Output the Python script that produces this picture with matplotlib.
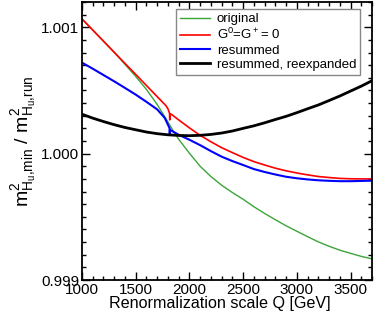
import numpy as np
import matplotlib
matplotlib.use('Agg')
import matplotlib.pyplot as plt
from matplotlib.ticker import MultipleLocator, FormatStrFormatter

plt.rcParams['font.family'] = ['Liberation Sans', 'DejaVu Sans']
plt.rcParams['mathtext.default'] = 'regular'

# Daten
q_orig = [1000, 1100, 1200, 1300, 1400, 1500, 1600, 1700, 1800, 1850, 1900, 2000, 2100, 2200,
          2300, 2400, 2500, 2600, 2700, 2800, 2900, 3000, 3100, 3200, 3300, 3400, 3500, 3600, 3700]
v_orig = [1.001066, 1.000978, 1.000890, 1.000802, 1.000707, 1.000611, 1.000508, 1.000389,
          1.000251, 1.000179, 1.000114, 1.000003, 0.999900, 0.999819, 0.999750, 0.999692,
          0.999639, 0.999580, 0.999527, 0.999477, 0.999429, 0.999386, 0.999343, 0.999302,
          0.999267, 0.999236, 0.999211, 0.999187, 0.999167]

q_g0 = [1000, 1100, 1200, 1300, 1400, 1500, 1600, 1700, 1780, 1800, 1815, 1817, 1819,
        1831, 1900, 2000, 2100, 2200, 2300, 2400, 2500, 2600, 2700, 2800, 2900, 3000,
        3100, 3200, 3300, 3400, 3500, 3600, 3700]
v_g0 = [1.001066, 1.000978, 1.000890, 1.000802, 1.000714, 1.000627, 1.000539, 1.000451,
        1.000381, 1.000355, 1.000320, 1.000267, 1.000312, 1.000312, 1.000267, 1.000204,
        1.000145, 1.000094, 1.000047, 1.000008, 0.999970, 0.999937, 0.999910, 0.999885,
        0.999864, 0.999847, 0.999832, 0.999819, 0.999811, 0.999804, 0.999801, 0.999800,
        0.999800]

q_res = [1000, 1100, 1200, 1300, 1400, 1500, 1600, 1700, 1770, 1815, 1817, 1819, 1900,
         2000, 2100, 2200, 2300, 2400, 2500, 2600, 2700, 2800, 2900, 3000, 3100, 3200,
         3300, 3400, 3500, 3600, 3700]
v_res = [1.000720, 1.000672, 1.000622, 1.000572, 1.000520, 1.000467, 1.000410, 1.000350,
         1.000283, 1.000202, 1.000149, 1.000189, 1.000149, 1.000110, 1.000067, 1.000020,
         0.999976, 0.999941, 0.999910, 0.999878, 0.999855, 0.999835, 0.999817, 0.999805,
         0.999796, 0.999789, 0.999785, 0.999782, 0.999782, 0.999784, 0.999786]

q_reexp = [1000, 1100, 1200, 1300, 1400, 1500, 1600, 1700, 1800, 1900, 2000, 2100, 2200,
           2300, 2400, 2500, 2600, 2700, 2800, 2900, 3000, 3100, 3200, 3300, 3400, 3500,
           3600, 3700]
v_reexp = [1.000312, 1.000281, 1.000254, 1.000229, 1.000207, 1.000189, 1.000171, 1.000158,
           1.000149, 1.000144, 1.000142, 1.000145, 1.000152, 1.000163, 1.000179, 1.000200,
           1.000220, 1.000244, 1.000270, 1.000295, 1.000324, 1.000355, 1.000385, 1.000420,
           1.000456, 1.000495, 1.000534, 1.000577]

fig = plt.figure(figsize=(3.74, 3.18), dpi=100)
ax = fig.add_axes([82 / 374, 1 - 280 / 318, 290 / 374, 278 / 318])

ax.plot(q_orig, v_orig, color='#3aa53a', lw=1.0, label='original')
ax.plot(q_g0, v_g0, color='red', lw=1.2, label=r'G$^0$=G$^+$= 0')
ax.plot(q_res, v_res, color='blue', lw=1.5, label='resummed')
ax.plot(q_reexp, v_reexp, color='black', lw=2.0, label='resummed, reexpanded')

ax.set_xlim(1000, 3700)
ax.set_ylim(0.999, 1.0012)
ax.xaxis.set_major_locator(MultipleLocator(500))
ax.xaxis.set_minor_locator(MultipleLocator(100))
ax.yaxis.set_major_locator(MultipleLocator(0.001))
ax.yaxis.set_minor_locator(MultipleLocator(0.0001))
ax.yaxis.set_major_formatter(FormatStrFormatter('%.3f'))
ax.tick_params(which='both', direction='in', top=True, right=True, labelsize=11, width=1.0)
ax.tick_params(which='major', length=6, pad=2)
ax.tick_params(which='minor', length=3)
for s in ax.spines.values():
    s.set_linewidth(1.3)

ax.set_xlabel('Renormalization scale Q [GeV]', fontsize=11.6, labelpad=0)
ax.xaxis.set_label_coords(0.476, -0.058, transform=ax.transAxes)
ax.xaxis.label.set_va('top')
ax.set_ylabel(r'$m^2_{H_u{,}min}$ / $m^2_{H_u{,}run}$', fontsize=14, labelpad=2)

leg = ax.legend(loc='upper right', bbox_to_anchor=(0.96, 0.975), fontsize=9.5,
                fancybox=False, framealpha=1, edgecolor='#888888', handlelength=2.3,
                handletextpad=0.5, borderpad=0.3, labelspacing=0.15, borderaxespad=0)
leg.get_frame().set_linewidth(1.0)

fig.savefig('out.png', dpi=100)
